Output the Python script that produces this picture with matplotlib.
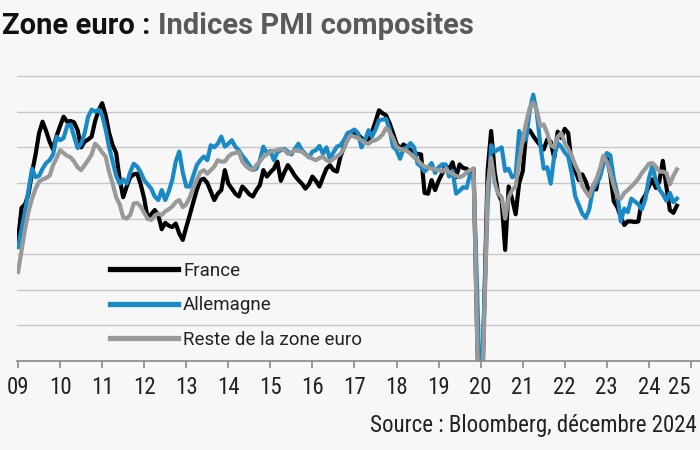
import matplotlib
matplotlib.use("Agg")
import numpy as np
import matplotlib.pyplot as plt
from matplotlib import font_manager

# monthly composite PMI, Apr 2009 -> Dec 2024 (one row per year)
france = [
    42.0, 46.5, 47.0, 48.5, 51.5, 54.0, 57.0, 58.6, 57.3,  # 2009 (Apr-Dec)
    55.8, 54.7, 56.6, 58.0, 59.3, 58.6, 58.7, 58.5, 57.4, 55.0, 55.8, 56.1,
    56.5, 58.7, 60.2, 61.2, 59.5, 57.0, 55.3, 54.2, 50.5, 48.0, 49.5, 50.8,
    51.2, 51.3, 49.8, 47.8, 45.0, 45.6, 46.2, 45.5, 43.5, 44.4, 44.0, 43.8,
    44.3, 42.9, 42.0, 43.8, 45.5, 47.3, 49.0, 50.4, 50.6, 50.0, 48.8, 47.6,
    48.5, 49.0, 51.8, 49.9, 49.2, 48.5, 48.1, 49.5, 49.0, 48.4, 48.1, 49.0,
    49.7, 51.8, 50.9, 51.5, 52.0, 53.0, 50.3, 51.5, 52.5, 51.8, 51.0, 50.4,
    49.9, 49.2, 49.8, 50.9, 50.3, 49.5, 50.8, 52.0, 52.5, 51.8, 51.6, 53.7,
    55.0, 56.3, 56.8, 57.0, 56.8, 56.3, 55.8, 56.0, 57.2, 58.6, 60.2, 59.8,
    59.5, 58.4, 57.0, 55.5, 54.8, 55.4, 55.0, 54.6, 54.1, 54.1, 54.0, 48.6,
    48.5, 50.4, 49.0, 50.3, 51.3, 52.5, 51.9, 52.9, 50.8, 52.6, 52.1, 52.0,
    51.1, 52.0, 28.9, 11.1, 32.1, 51.7, 57.3, 51.6, 48.5, 47.5, 40.6, 49.5,
    47.7, 45.6, 50.0, 51.6, 57.0, 57.4, 56.6, 55.9, 55.3, 54.7, 56.1, 55.8,
    53.5, 57.2, 56.3, 57.6, 57.0, 52.5, 51.7, 50.4, 51.2, 50.2, 48.7, 49.1,
    49.1, 51.7, 52.7, 53.5, 51.2, 47.4, 46.6, 45.2, 44.1, 44.6, 44.6, 44.5,
    44.6, 47.5, 48.3, 49.5, 50.5, 49.3, 50.2, 53.1, 49.5, 46.2, 45.8, 46.8,
]
allemagne = [
    41.0, 43.5, 46.0, 49.0, 52.0, 50.8, 51.0, 52.0, 52.8,
    53.2, 54.0, 56.5, 56.0, 56.3, 58.0, 58.2, 56.5, 54.9, 55.5, 57.0, 59.3,
    60.3, 60.0, 60.3, 59.5, 57.5, 55.0, 53.0, 51.0, 49.9, 50.5, 49.9, 51.5,
    52.7, 52.3, 51.5, 50.4, 49.8, 49.2, 48.1, 47.6, 49.0, 47.6, 48.8, 50.4,
    53.0, 54.4, 51.5, 49.5, 49.5, 51.0, 52.5, 53.2, 53.7, 53.2, 55.3, 55.0,
    55.5, 56.5, 55.1, 55.5, 56.0, 55.1, 54.6, 53.8, 53.2, 52.5, 51.8, 52.0,
    53.2, 55.1, 54.2, 54.5, 53.2, 54.3, 54.6, 54.8, 54.4, 54.0, 54.8, 55.5,
    54.6, 54.1, 53.6, 54.4, 54.6, 55.2, 54.1, 55.0, 53.4, 54.3, 55.1, 55.3,
    56.0, 57.0, 57.2, 57.5, 57.0, 55.0, 56.0, 57.4, 56.5, 57.5, 58.8, 58.9,
    59.0, 57.6, 55.1, 54.6, 53.4, 54.8, 55.0, 55.6, 55.0, 52.7, 52.3, 51.6,
    52.1, 52.8, 51.4, 52.2, 52.6, 52.6, 50.9, 51.7, 48.5, 48.9, 49.4, 49.3,
    51.2, 50.7, 35.0, 17.4, 32.3, 47.0, 55.3, 54.4, 54.7, 55.0, 51.7, 52.0,
    50.8, 51.1, 57.3, 55.8, 56.2, 60.1, 62.4, 60.0, 55.5, 52.0, 52.2, 49.9,
    53.8, 55.6, 55.1, 54.3, 53.7, 51.3, 48.1, 46.9, 45.7, 45.1, 46.3, 49.0,
    49.9, 50.7, 52.6, 54.2, 53.9, 50.6, 48.5, 44.6, 46.4, 45.9, 47.8, 47.4,
    47.0, 46.3, 47.7, 50.6, 52.4, 50.4, 49.1, 48.4, 47.5, 48.6, 47.3, 47.8,
]
reste = [
    37.5, 40.5, 43.5, 46.0, 47.8, 49.2, 50.2, 50.5, 50.7,
    51.0, 52.5, 53.5, 54.6, 54.2, 53.8, 53.6, 53.0, 52.2, 51.8, 52.5, 53.2,
    54.0, 55.5, 55.0, 54.3, 53.7, 51.5, 49.9, 48.0, 47.0, 45.2, 45.0, 45.5,
    47.1, 47.2, 46.7, 45.8, 45.0, 44.8, 45.4, 45.7, 45.5, 46.0, 46.3, 46.7,
    47.3, 47.6, 46.6, 47.0, 48.0, 49.3, 50.4, 51.5, 51.8, 51.3, 51.8, 52.3,
    53.2, 53.0, 53.0, 53.7, 54.1, 54.2, 54.4, 53.0, 52.4, 52.0, 51.8, 52.5,
    53.0, 53.7, 54.0, 54.4, 54.5, 54.6, 54.8, 54.6, 54.1, 54.3, 54.6, 54.5,
    54.4, 54.0, 53.7, 53.4, 53.2, 53.5, 53.7, 53.2, 53.0, 53.4, 53.7, 54.1,
    54.8, 56.0, 56.7, 56.5, 56.3, 56.0, 55.6, 55.5, 55.9, 56.0, 56.3, 56.8,
    57.7, 57.2, 56.3, 55.1, 54.8, 54.6, 54.5, 54.1, 53.6, 53.2, 52.7, 52.3,
    52.2, 52.0, 51.9, 51.8, 51.6, 52.0, 51.5, 51.3, 51.0, 50.8, 51.0, 51.5,
    51.8, 52.0, 28.0, 12.0, 30.0, 49.5, 53.5, 50.0, 48.5, 48.0, 45.0, 48.0,
    49.0, 49.5, 53.0, 56.0, 58.5, 60.5, 61.3, 60.3, 58.0, 58.2, 57.0, 55.3,
    55.0, 56.5, 57.0, 55.6, 54.8, 53.8, 52.5, 51.5, 49.6, 48.8, 48.1, 49.6,
    50.5, 51.9, 53.8, 53.0, 51.4, 49.6, 48.1, 47.8, 48.6, 49.0, 49.5, 50.0,
    50.6, 51.4, 52.0, 52.7, 52.8, 52.3, 51.6, 51.6, 51.4, 49.8, 51.0, 51.9,
]
series_names = ["France", "Allemagne", "Reste de la zone euro"]
year_labels = [f"{y % 100:02d}" for y in range(2009, 2026)]

# a narrow face if one is around, otherwise Roboto
installed = {f.name for f in font_manager.fontManager.ttflist}
narrow = "Roboto"
for cand in ["Liberation Sans Narrow", "Roboto Condensed", "Open Sans Condensed",
             "Arial Narrow"]:
    if cand in installed:
        narrow = cand
        break

bg = "#f7f7f7"
fig = plt.figure(figsize=(7, 4.5), dpi=100, facecolor=bg)
ax = fig.add_axes([17 / 700, 1 - 361 / 450, 683 / 700, (361 - 69) / 450])
ax.set_facecolor(bg)

x = np.arange(len(france))
colors = ["#000000", "#1a8ac6", "#999999"]
for vals, name, c in zip([france, allemagne, reste], series_names, colors):
    ax.plot(x, vals, color=c, lw=3.0, label=name)

ax.set_xlim(-0.3, 194.6)
ax.set_ylim(25, 66)
ax.set_yticks(np.arange(30, 66, 5))
ax.grid(axis="y", color="#c8c8c8", lw=1)
ax.set_axisbelow(True)
ax.tick_params(axis="y", left=False, labelleft=False)

ax.set_xticks(np.arange(0, 193, 12))
ax.set_xticklabels(year_labels, fontfamily=narrow, fontsize=16.5, color="#222222")
ax.tick_params(axis="x", direction="out", length=5, color="#888888", width=1.2, pad=6)
ax.get_xticklabels()[-1].set_horizontalalignment("right")

for s in ["top", "right", "left"]:
    ax.spines[s].set_visible(False)
ax.spines["bottom"].set_color("#888888")
ax.spines["bottom"].set_linewidth(1.2)

leg = ax.legend(loc="upper left", bbox_to_anchor=(110 / 700, 1 - 262 / 450),
                bbox_transform=fig.transFigure, frameon=False, borderpad=0,
                borderaxespad=0, handlelength=3.6, handletextpad=0.3,
                labelspacing=0.88, prop={"family": "Roboto", "size": 13.5})
for h in leg.get_lines():
    h.set_linewidth(3.8)
for t in leg.get_texts():
    t.set_color("#222222")

t1 = fig.text(2 / 700, 1 - 34 / 450, "Zone euro : ", fontfamily="Roboto",
              fontweight="bold", fontsize=21, color="#111111", va="baseline")
fig.canvas.draw()
bb = t1.get_window_extent()
fig.text(bb.x1 / fig.bbox.width, 1 - 34 / 450, "Indices PMI composites",
         fontfamily="Roboto", fontweight="bold", fontsize=21, color="#5a5a5a",
         va="baseline")

fig.text(697 / 700, 1 - 432 / 450, "Source : Bloomberg, décembre 2024",
         fontfamily=narrow, fontsize=16.5, color="#222222", va="baseline",
         ha="right")

fig.savefig("out.png", dpi=100, facecolor=bg)
